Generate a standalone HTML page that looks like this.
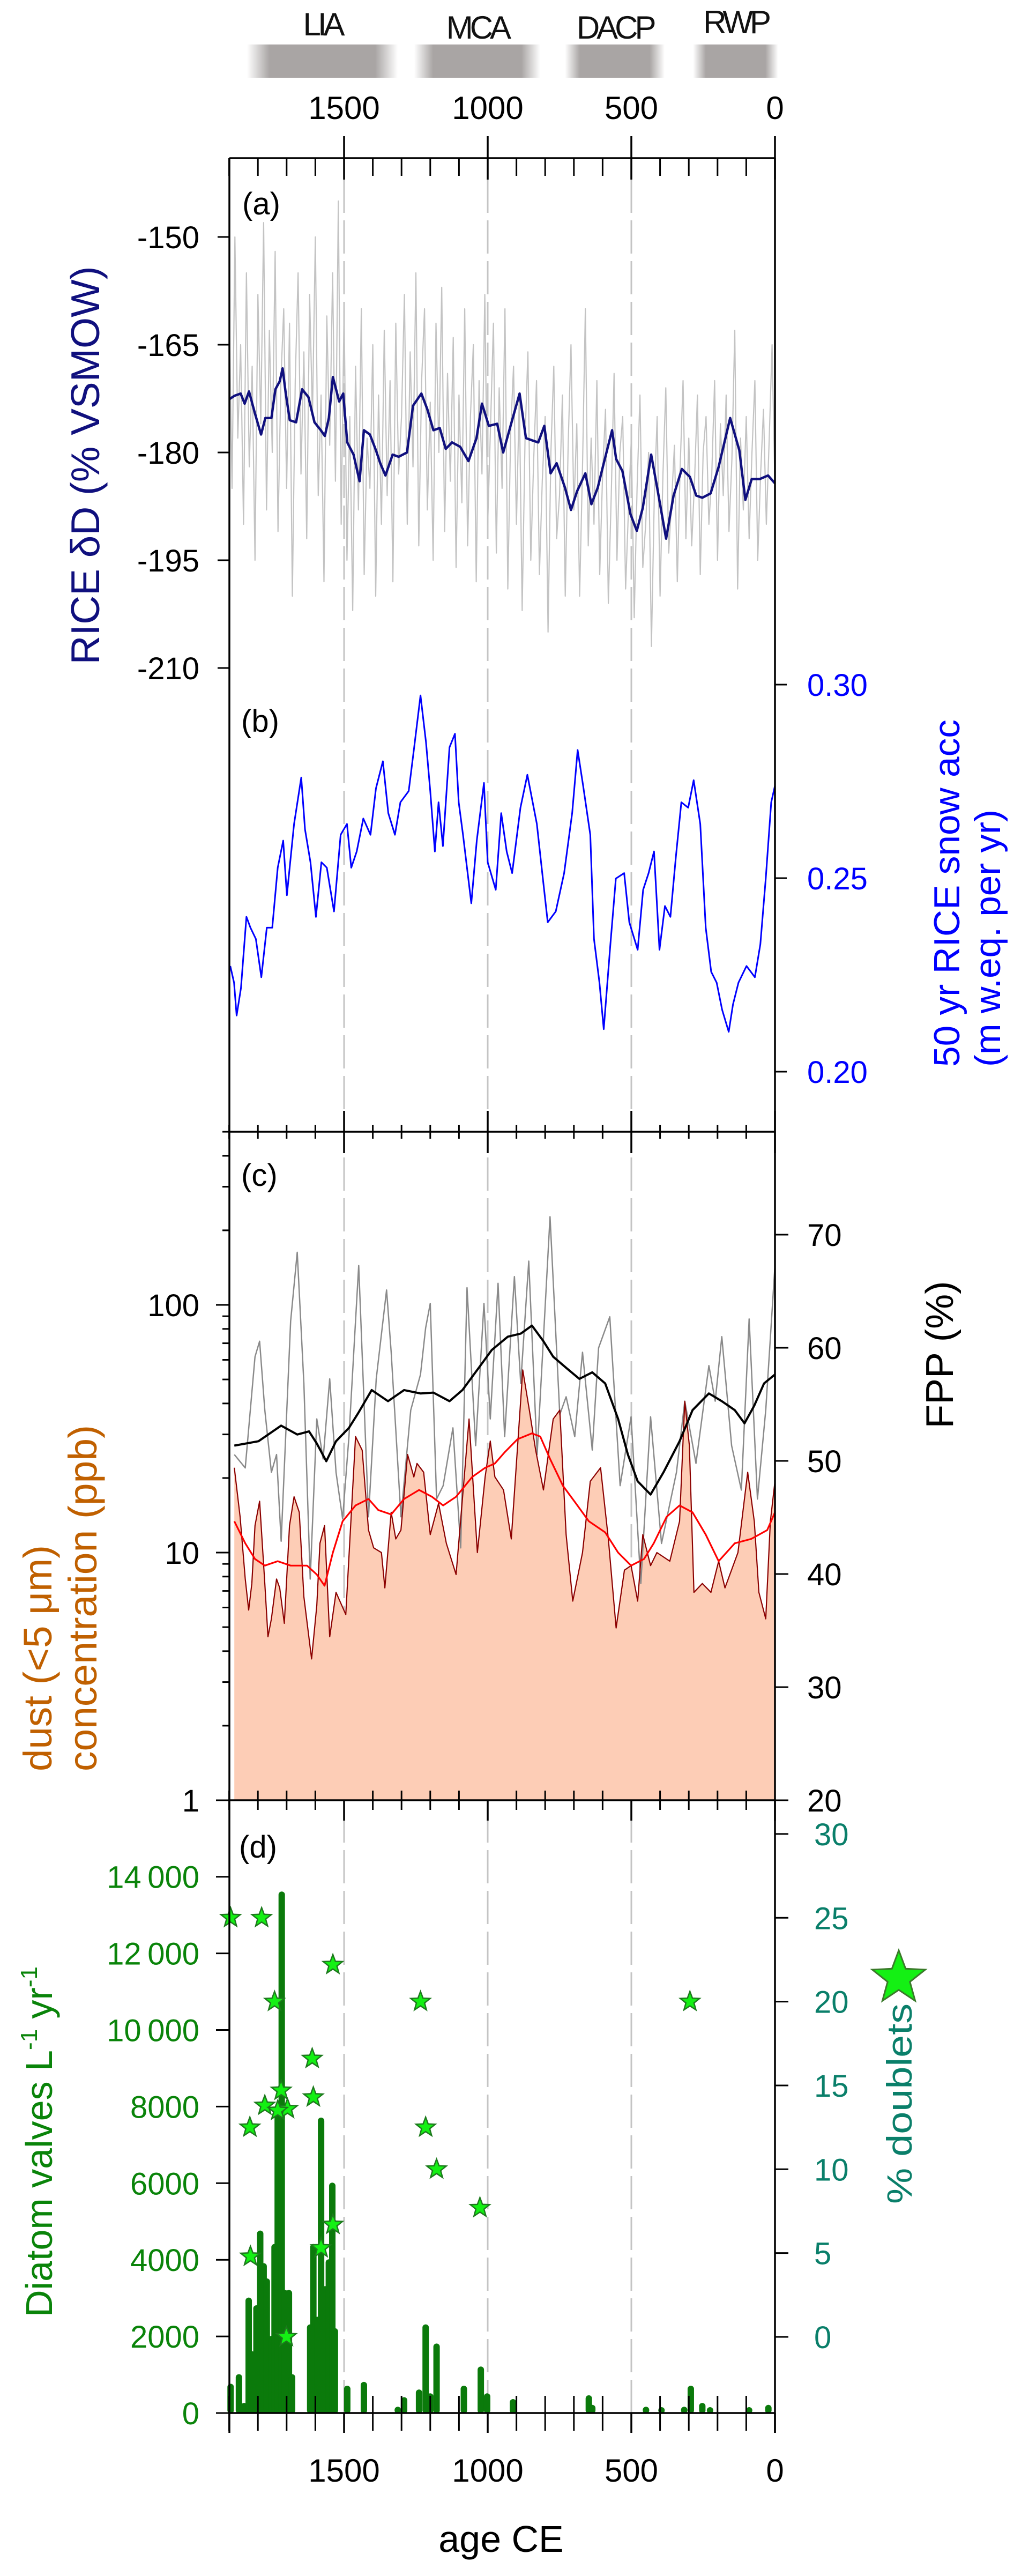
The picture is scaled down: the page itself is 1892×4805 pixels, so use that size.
<!DOCTYPE html>
<html><head><meta charset="utf-8"><title>RICE multi-panel record</title>
<style>
html,body{margin:0;padding:0;background:#fff;}
svg{display:block;font-family:"Liberation Sans",Arial,sans-serif;}
</style></head>
<body>
<svg id="chart" xmlns="http://www.w3.org/2000/svg" width="1892" height="4805" viewBox="0 0 1892 4805">
<defs>
<linearGradient id="eraGrad" x1="0" x2="1" y1="0" y2="0">
<stop offset="0" stop-color="#a9a5a4" stop-opacity="0"/>
<stop offset="0.15" stop-color="#a9a5a4" stop-opacity="1"/>
<stop offset="0.85" stop-color="#a9a5a4" stop-opacity="1"/>
<stop offset="1" stop-color="#a9a5a4" stop-opacity="0"/>
</linearGradient>
</defs>
<g id="eras"></g>
<g id="grid"></g>
<g id="plot"></g>
<g id="axes"></g>
<g id="labels"></g>
</svg>
<script>
// ---------- data ----------
const eraNames = ["LIA","MCA","DACP","RWP"];
const eraStart = [1838,1256,731,285];
const eraEnd = [1313,817,384,-11];

const smoothYears = [1900,1881,1860,1846,1831,1810,1789,1774,1753,1739,1724,1714,1703,1689,1667,1646,1624,1603,1581,1567,1553,1539,1517,1503,1489,1467,1446,1431,1410,1389,1374,1356,1331,1310,1281,1260,1231,1210,1189,1167,1146,1124,1096,1067,1039,1020,996,967,946,917,889,867,846,824,803,781,760,731,710,689,660,639,617,596,567,553,531,503,481,460,431,410,379,353,324,296,274,253,224,196,156,124,103,81,53,24,0];
const smoothDD = [-172.6,-172.1,-171.8,-173.2,-171.5,-174.6,-177.5,-175.2,-175.2,-171.2,-170.1,-168.3,-171.8,-175.5,-175.8,-171.2,-172.3,-175.8,-176.9,-177.7,-175.2,-169.5,-172.9,-171.8,-178.6,-180.3,-184.0,-176.9,-177.5,-179.7,-181.5,-183.2,-180.3,-180.6,-180.0,-173.5,-171.8,-174.0,-176.9,-176.6,-179.5,-178.6,-179.2,-181.2,-178.0,-173.2,-176.3,-176.0,-180.0,-175.8,-171.8,-178.0,-178.3,-178.6,-176.3,-182.9,-181.5,-184.9,-188.0,-185.4,-182.9,-187.2,-184.9,-181.5,-176.9,-180.9,-182.6,-188.6,-190.9,-187.7,-180.3,-184.9,-192.0,-186.0,-182.3,-183.4,-186.0,-186.3,-185.7,-182.0,-175.2,-179.7,-186.6,-183.7,-183.7,-183.2,-184.3];

const rawDDStartYear = 1900; // decadal samples, 1900 -> 0
const rawDD = [-160,-185,-150,-178,-165,-190,-155,-182,-168,-195,-158,-176,-148,-188,-163,-180,-152,-191,-170,-160,
-185,-162,-200,-170,-155,-183,-166,-192,-158,-175,-150,-186,-172,-198,-161,-179,-155,-184,-145,-190,
-160,-195,-175,-202,-168,-188,-160,-197,-178,-185,-165,-200,-172,-190,-163,-186,-170,-198,-162,-183,
-175,-158,-190,-166,-182,-155,-193,-170,-160,-188,-173,-195,-162,-180,-157,-191,-169,-184,-164,-196,
-172,-187,-160,-193,-175,-165,-198,-170,-183,-158,-190,-176,-162,-194,-171,-185,-160,-199,-177,-168,
-190,-172,-202,-178,-166,-195,-181,-170,-197,-184,-175,-205,-180,-168,-192,-186,-172,-200,-179,-165,
-188,-176,-200,-182,-160,-193,-178,-190,-170,-197,-183,-174,-201,-186,-169,-195,-180,-175,-199,-188,
-178,-203,-185,-172,-196,-190,-180,-207,-186,-175,-200,-183,-171,-194,-187,-179,-198,-182,-170,-192,
-178,-193,-184,-172,-197,-180,-175,-190,-183,-170,-195,-176,-186,-172,-191,-181,-163,-199,-178,-188,
-175,-192,-180,-170,-195,-183,-174,-190,-178,-165,-185];

const accYears = [1896,1883,1874,1859,1840,1826,1807,1788,1769,1750,1731,1712,1699,1674,1649,1636,1617,1598,1579,1560,1535,1512,1490,1475,1456,1433,1408,1389,1365,1346,1323,1304,1275,1256,1234,1215,1200,1184,1171,1156,1133,1114,1101,1086,1057,1038,1013,1000,972,953,934,915,886,862,829,810,791,763,734,706,687,668,643,630,611,596,573,554,525,507,478,459,440,421,402,383,364,345,326,302,283,260,241,222,203,184,161,146,127,99,70,51,32,13,0];
const accValues = [0.2273,0.2230,0.2145,0.2216,0.2400,0.2372,0.2343,0.2244,0.2372,0.2372,0.2527,0.2597,0.2456,0.2640,0.2760,0.2626,0.2541,0.2400,0.2541,0.2527,0.2414,0.2612,0.2640,0.2527,0.2569,0.2654,0.2612,0.2732,0.2802,0.2668,0.2612,0.2696,0.2725,0.2838,0.2972,0.2852,0.2725,0.2569,0.2696,0.2583,0.2838,0.2873,0.2696,0.2612,0.2435,0.2597,0.2746,0.2541,0.2470,0.2668,0.2569,0.2513,0.2682,0.2767,0.2640,0.2513,0.2386,0.2414,0.2513,0.2668,0.2831,0.2739,0.2612,0.2343,0.2230,0.2110,0.2329,0.2499,0.2513,0.2386,0.2315,0.2470,0.2513,0.2569,0.2315,0.2428,0.2400,0.2555,0.2696,0.2682,0.2753,0.2640,0.2372,0.2258,0.2230,0.2160,0.2103,0.2174,0.2230,0.2273,0.2244,0.2329,0.2499,0.2696,0.2739];

const fppSmoothYears = [1882,1798,1719,1663,1622,1595,1562,1528,1483,1449,1404,1347,1291,1234,1189,1133,1088,1031,986,930,885,846,806,772,727,681,636,591,546,512,478,433,388,332,287,230,185,140,106,72,38,0];
const fppSmooth = [51.35,51.74,53.12,52.33,52.61,51.54,49.97,51.74,52.92,54.30,56.26,55.28,56.26,55.96,56.04,55.28,56.26,58.23,59.80,60.98,61.25,61.96,60.58,59.21,58.23,57.25,57.83,56.85,53.71,50.56,48.20,47.03,48.99,51.74,54.49,55.96,55.28,54.49,53.32,54.89,56.85,57.64];

const fppRawYears = [1882,1844,1810,1794,1776,1753,1735,1719,1686,1663,1640,1618,1595,1573,1550,1528,1505,1483,1449,1415,1388,1352,1336,1302,1268,1234,1216,1200,1178,1155,1121,1094,1072,1042,1013,991,964,941,907,885,857,828,783,749,727,697,670,636,614,575,539,501,467,433,395,343,314,275,230,208,185,151,117,90,61,32,0];
const fppRaw = [50.56,49.38,59.21,60.58,54.49,48.99,50.56,42.90,62.35,68.44,56.85,39.55,53.71,50.17,57.25,48.99,44.87,52.15,67.27,45.06,57.25,65.11,59.60,45.06,54.49,57.64,61.76,63.92,46.63,47.81,52.92,42.31,65.31,51.35,63.92,53.71,65.70,52.15,66.29,56.85,67.66,50.56,71.59,54.10,55.67,52.15,59.60,50.96,59.99,62.74,47.81,53.90,39.16,53.90,42.70,48.99,55.28,49.78,58.42,55.28,60.98,51.35,47.42,62.55,46.63,54.49,67.27];

const dustYears = [1882,1862,1844,1832,1821,1810,1794,1776,1765,1753,1735,1724,1708,1690,1674,1656,1640,1613,1595,1584,1568,1550,1528,1494,1460,1437,1415,1397,1370,1358,1336,1320,1302,1279,1257,1246,1223,1200,1171,1144,1110,1088,1065,1036,1009,991,975,945,918,878,855,833,806,772,749,727,704,670,643,607,580,553,524,501,478,460,433,411,366,332,314,298,282,253,223,196,174,129,95,72,56,32,16,0];
const dustValues = [22.0,13.95,7.82,5.86,7.50,12.85,16.12,7.50,4.57,5.40,7.82,7.20,5.18,12.85,16.80,14.54,6.63,3.72,6.11,10.9,12.85,4.57,6.91,5.62,29.4,25.9,12.32,10.45,10.0,7.20,14.54,11.35,12.32,24.9,20.2,22.9,21.1,11.82,15.79,10.9,8.15,16.46,34.6,10.0,20.2,28.2,20.2,17.9,11.35,54.6,37.6,25.9,17.9,34.6,37.6,11.82,6.37,10.0,19.4,22.0,11.35,4.96,8.49,8.86,6.37,11.82,8.86,10.0,9.23,13.38,40.8,27.0,6.91,7.50,6.91,9.23,7.20,10.0,21.1,13.38,6.91,5.40,13.38,19.4];

const dustSmoothYears = [1882,1844,1810,1776,1731,1686,1629,1595,1568,1539,1505,1460,1415,1381,1336,1291,1239,1194,1155,1110,1054,1009,975,941,896,846,817,783,738,693,648,591,546,501,456,422,377,332,287,241,196,140,83,27,0];
const dustSmooth = [13.38,10.9,9.42,8.86,9.23,8.86,8.86,8.15,7.35,10.0,13.38,15.5,16.46,14.85,14.25,16.46,17.9,16.8,15.5,16.8,20.2,22.0,22.9,25.4,28.7,30.3,29.4,23.9,18.6,15.79,13.38,12.07,10.0,8.86,9.42,10.9,13.95,15.5,14.54,11.82,9.23,10.9,11.35,12.32,14.54];

const diatomYears = [1895,1866,1848,1832,1821,1805,1792,1780,1769,1753,1742,1731,1717,1706,1692,1681,1618,1607,1593,1580,1566,1553,1541,1532,1489,1431,1313,1291,1239,1216,1200,1178,1083,1024,1002,912,648,636,449,395,316,293,253,226,90,23];
const diatomValues = [750,1000,250,3000,1600,2800,4750,3900,3500,2000,4400,8000,13600,3200,3200,1000,2300,4400,2500,7700,3300,4000,6000,2200,700,800,150,400,600,2300,500,1800,700,1200,500,350,450,200,150,100,150,700,250,100,100,200];

const doubletYears = [1895,1787,1539,1742,1234,296,1611,1719,1607,1776,1697,1731,1828,1216,1178,1027,1539,1580,1826,1701];
const doubletValues = [25.0,25.0,22.2,20.0,20.0,20.0,16.6,14.7,14.3,13.8,13.6,13.5,12.5,12.5,10.0,7.7,6.7,5.3,4.8,0.0];

const xTicksMajor = [1500,1000,500,0];
const xTicksMinor = [1900,1800,1700,1600,1400,1300,1200,1100,900,800,700,600,400,300,200,100];
const ddTicks = [-150,-165,-180,-195,-210];
const accTicks = [0.20,0.25,0.30];
const accTickLabels = ["0.20","0.25","0.30"];
const dustTicks = [1,10,100];
const fppTicks = [20,30,40,50,60,70];
const diatomTicks = [0,2000,4000,6000,8000,10000,12000,14000];
const diatomTickLabels = ["0","2000","4000","6000","8000","10\u2009000","12\u2009000","14\u2009000"];
const doubletTicks = [0,5,10,15,20,25,30];

// ---------- scales ----------
const X = yr => 1446 - yr*0.536;
const Ya = v => 442 + (-150 - v)*13.4;
const Yb = v => 1277 + (0.30 - v)*7220;
const YcLog = v => 2896 - (Math.log10(v) - 1)*462;
const YcFpp = v => 3358 - (v - 20)*21.1;
const YdL = v => 4501 - v*0.07145;
const YdR = v => 4359 - v*31.27;
const L = 428, R = 1446;

const NS = "http://www.w3.org/2000/svg";
function mk(tag, attrs, parent){
  const e = document.createElementNS(NS, tag);
  for (const k in attrs) e.setAttribute(k, attrs[k]);
  parent.appendChild(e);
  return e;
}
const eras = document.getElementById('eras');
const grid = document.getElementById('grid');
const plot = document.getElementById('plot');
const axes = document.getElementById('axes');
const labels = document.getElementById('labels');

// eras
eraNames.forEach((n,i)=>{
  const x1 = X(eraStart[i]), x2 = X(eraEnd[i]);
  const r = mk('rect',{x:x1,y:83,width:x2-x1,height:62,fill:'url(#eraGrad)'},eras);
  
  
  const t = mk('text',{x:(x1+x2)/2,y:i===0?66:(i===3?62:72),'font-size':60,'text-anchor':'middle','letter-spacing':-6,fill:'#111'},eras);
  t.textContent = n;
  
  
});

// dashed lines
[1500,1000,500].forEach(yr=>{
  const l = mk('line',{x1:X(yr),x2:X(yr),y1:335,y2:4501,stroke:'#c4c4c4','stroke-width':3,'stroke-dasharray':'62 14'},grid);
  
  
});

function poly(xs, ys, fx, fy, attrs, name){
  const pts = xs.map((x,i)=>fx(x).toFixed(1)+','+fy(ys[i]).toFixed(1)).join(' ');
  const p = mk('polyline', Object.assign({points:pts, fill:'none','stroke-linejoin':'round'}, attrs), plot);
  
  
  return p;
}

// panel a
const rawYears = rawDD.map((v,i)=>rawDDStartYear - i*10);
poly(rawYears, rawDD, X, Ya, {stroke:'#c3c3c3','stroke-width':2.2}, 'dd-annual-line');
poly(smoothYears, smoothDD, X, Ya, {stroke:'#10107e','stroke-width':4.5}, 'dd-smoothed-line');
// panel b
poly(accYears, accValues, X, Yb, {stroke:'#0000ff','stroke-width':3}, 'snow-accumulation-line');
// panel c
{
  const pts = dustYears.map((y,i)=>X(y).toFixed(1)+','+YcLog(dustValues[i]).toFixed(1));
  const d = 'M'+X(dustYears[0]).toFixed(1)+',3358 L'+pts.join(' L')+' L'+X(dustYears[dustYears.length-1]).toFixed(1)+',3358 Z';
  const a = mk('path',{d:d,fill:'#fdcdb6',stroke:'none'},plot);
  
  
}
poly(fppRawYears, fppRaw, X, YcFpp, {stroke:'#8a8a8a','stroke-width':2.5}, 'fpp-raw-line');
poly(dustYears, dustValues, X, YcLog, {stroke:'#8b0000','stroke-width':2.2}, 'dust-line');
poly(dustSmoothYears, dustSmooth, X, YcLog, {stroke:'#ff0000','stroke-width':3.2}, 'dust-smoothed-line');
poly(fppSmoothYears, fppSmooth, X, YcFpp, {stroke:'#000','stroke-width':4}, 'fpp-smoothed-line');
// panel d bars
diatomYears.forEach((yr,i)=>{
  const b = mk('line',{x1:X(yr),x2:X(yr),y1:4496,y2:Math.min(4496,YdL(diatomValues[i])+5),stroke:'#0b7a0b','stroke-width':12,'stroke-linecap':'round'},plot);
  
  
});
function starPath(cx, cy, ro){
  const ri = ro*0.42; let d='';
  for(let k=0;k<10;k++){
    const r = k%2?ri:ro, a = -Math.PI/2 + k*Math.PI/5;
    d += (k?'L':'M') + (cx + r*Math.cos(a)).toFixed(1) + ',' + (cy + r*Math.sin(a)).toFixed(1);
  }
  return d+'Z';
}
doubletYears.forEach((yr,i)=>{
  const s = mk('path',{d:starPath(X(yr),YdR(doubletValues[i]),19),fill:'#14f014',stroke:'#1d7a1d','stroke-width':2.5},plot);
  
  
});

// ---------- axes ----------
function ln(x1,y1,x2,y2,w,name,col){
  const l = mk('line',{x1,y1,x2,y2,stroke:col||'#000','stroke-width':w||3},axes);
  
  
  return l;
}
function tx(x,y,s,size,anchor,fill,name,parent){
  const t = mk('text',{x,y,'font-size':size,'text-anchor':anchor,fill:fill},parent||labels);
  t.textContent = s;
  
  
  return t;
}
ln(L,295,L,4538,3.5,'left-axis-line');
ln(R,295,R,4538,3.5,'right-axis-line');
ln(L,295,R,295,3.5,'top-x-axis');
ln(L,2111,R,2111,3.5,'mid-x-axis');
ln(L,3358,R,3358,3.5,'lower-x-axis');
ln(L,4501,R,4501,3.5,'bottom-x-axis');
xTicksMajor.forEach(yr=>{
  ln(X(yr),254,X(yr),335,3.5,'top-major-tick');
  ln(X(yr),2072,X(yr),2151,3.5,'mid-major-tick');
  ln(X(yr),3358,X(yr),3396,3.5,'lower-major-tick');
  ln(X(yr),4501,X(yr),4538,3.5,'bottom-major-tick');
  tx(X(yr),222,String(yr),60,'middle','#000','top-x-tick-label');
  tx(X(yr),4629,String(yr),60,'middle','#000','bottom-x-tick-label');
});
xTicksMinor.forEach(yr=>{
  ln(X(yr),295,X(yr),328,3,'top-minor-tick');
  ln(X(yr),2098,X(yr),2124,3,'mid-minor-tick');
  ln(X(yr),3340,X(yr),3376,3,'lower-minor-tick');
  ln(X(yr),4469,X(yr),4534,3,'bottom-minor-tick');
});
ddTicks.forEach(v=>{ ln(L-22,Ya(v),L,Ya(v),3,'dd-tick'); tx(372,Ya(v)+21,String(v),58,'end','#000','dd-tick-label'); });
accTicks.forEach((v,i)=>{ ln(R,Yb(v),R+22,Yb(v),3,'acc-tick','#000'); tx(1506,Yb(v)+21,accTickLabels[i],58,'start','#0000ff','acc-tick-label'); });
for(let dec=1; dec<=100; dec*=10){
  for(let m=1;m<10;m++){
    const v = dec*m, y = YcLog(v);
    if (y < 2111 || y > 3358) continue;
    ln(L-(m===1?25:13),y,L,y,3,'dust-tick');
  }
}
ln(L-13,YcLog(200),L,YcLog(200),3,'dust-tick');
ln(L-13,YcLog(300),L,YcLog(300),3,'dust-tick');
ln(L-13,YcLog(400),L,YcLog(400),3,'dust-tick');
dustTicks.forEach(v=>tx(372,YcLog(v)+21,String(v),58,'end','#000','dust-tick-label'));
fppTicks.forEach(v=>{ ln(R,YcFpp(v),R+25,YcFpp(v),3,'fpp-tick'); tx(1506,YcFpp(v)+21,String(v),58,'start','#000','fpp-tick-label'); });
diatomTicks.forEach((v,i)=>{ ln(L-25,YdL(v),L,YdL(v),3,'diatom-tick'); tx(372,YdL(v)+21,diatomTickLabels[i],58,'end','#0a840a','diatom-tick-label'); });
doubletTicks.forEach(v=>{ ln(R,YdR(v),R+25,YdR(v),3,'doublet-tick'); tx(1519,YdR(v)+21,String(v),58,'start','#0a7f6a','doublet-tick-label'); });

// panel letters
tx(452,400,'(a)',58,'start','#000','panel-label-a');
tx(450,1365,'(b)',58,'start','#000','panel-label-b');
tx(450,2212,'(c)',58,'start','#000','panel-label-c');
tx(446,3465,'(d)',58,'start','#000','panel-label-d');

// axis titles
function rot(x,y,s,size,fill,name,anchor,len){
  const t = mk('text',{x:0,y:0,'font-size':size,'text-anchor':anchor,fill:fill,transform:`translate(${x},${y}) rotate(-90)`},labels);
  if (len) { t.setAttribute('textLength', len); t.setAttribute('lengthAdjust','spacingAndGlyphs'); }
  t.textContent = s;
  
  
  return t;
}
rot(185,868,'RICE \u03b4D (% VSMOW)',75,'#10107e','dd-axis-title','middle',743);
rot(1790,1990,'50 yr RICE snow acc',68,'#0000ff','acc-axis-title-line1','start',648);
rot(1866,1990,'(m w.eq. per yr)',68,'#0000ff','acc-axis-title-line2','start',480);
rot(1778,2527,'FPP (%)',72,'#000','fpp-axis-title','middle',275);
rot(96,3304,'dust (<5 \u03bcm)',74,'#c06000','dust-axis-title-line1','start',422);
rot(180,3304,'concentration (ppb)',74,'#c06000','dust-axis-title-line2','start',646);
{
  const t = mk('text',{x:0,y:0,'font-size':70,'text-anchor':'start',fill:'#0a840a',transform:'translate(97,4322) rotate(-90)'},labels);
  
  
  t.appendChild(document.createTextNode('Diatom valves L'));
  const s1 = mk('tspan',{'font-size':44,dy:-28},t); s1.textContent='-1';
  const s2 = mk('tspan',{'font-size':70,dy:28},t); s2.textContent=' yr';
  const s3 = mk('tspan',{'font-size':44,dy:-28},t); s3.textContent='-1';
}
rot(1701,4111,'% doublets',66,'#0a7f6a','doublet-axis-title','start',374);
{
  const s = mk('path',{d:starPath(1677,3690,52),fill:'#14f014',stroke:'#3a7a2a','stroke-width':3},labels);
  
  
}
tx(935,4760,'age CE',70,'middle','#000','x-axis-title');
</script>
</body></html>
